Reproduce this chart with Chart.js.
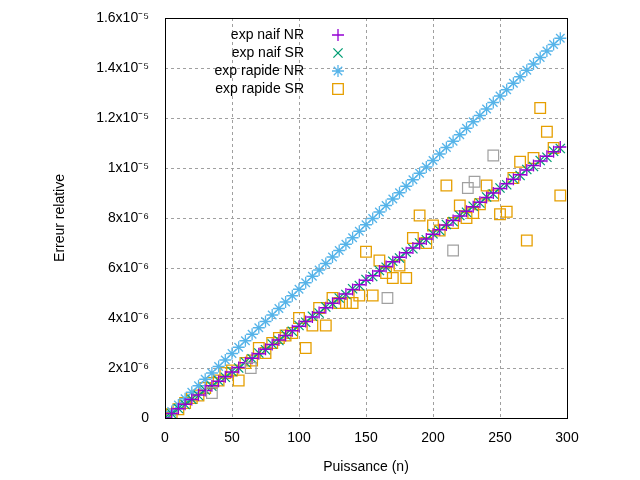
<!DOCTYPE html>
<html>
<head>
<meta charset="utf-8">
<script src="https://cdn.jsdelivr.net/npm/chart.js@4/dist/chart.umd.min.js"></script>
<style>
  html, body { margin: 0; padding: 0; background: #fff; }
  #wrap { width: 640px; height: 480px; }
</style>
</head>
<body>
<div id="wrap"><canvas id="c" width="640" height="480"></canvas></div>
<script>
// values in units of 1e-6
var puissance = [0,5,10,15,20,25,30,35,40,45,50,55,60,65,70,75,80,85,90,95,100,105,110,115,120,125,130,135,140,145,
                 150,155,160,165,170,175,180,185,190,195,200,205,210,215,220,225,230,235,240,245,250,255,260,265,270,275,280,285,290,295];
var naifNR = [0,0.18,0.37,0.55,0.74,0.92,1.1,1.29,1.47,1.65,1.84,2.02,2.21,2.39,2.57,2.75,2.94,3.12,3.3,3.49,3.67,3.86,4.04,4.22,4.41,4.59,4.78,4.96,5.14,5.33,
              5.51,5.69,5.88,6.06,6.25,6.43,6.61,6.8,6.98,7.16,7.35,7.53,7.72,7.9,8.08,8.27,8.45,8.63,8.82,9.0,9.18,9.37,9.55,9.73,9.92,10.1,10.28,10.47,10.65,10.84];
var naifSR = [0,0.17,0.38,0.54,0.75,0.9,1.12,1.27,1.49,1.63,1.86,2.0,2.23,2.37,2.6,2.73,2.96,3.1,3.33,3.47,3.7,3.83,4.07,4.2,4.44,4.57,4.8,4.94,5.17,5.3,
              5.54,5.66,5.9,6.03,6.27,6.4,6.63,6.77,7.0,7.13,7.37,7.5,7.74,7.86,8.1,8.23,8.47,8.6,8.84,8.96,9.2,9.33,9.57,9.7,9.94,10.06,10.3,10.43,10.67,10.78];
var rapideNR = [0,0.26,0.52,0.77,1.03,1.29,1.55,1.8,2.06,2.32,2.58,2.83,3.09,3.35,3.61,3.86,4.12,4.38,4.64,4.89,5.15,5.41,5.67,5.92,6.18,6.44,6.7,6.95,7.21,7.47,
                7.73,7.98,8.24,8.5,8.76,9.01,9.27,9.53,9.79,10.04,10.3,10.56,10.82,11.07,11.33,11.59,11.85,12.1,12.36,12.62,12.88,13.13,13.39,13.65,13.91,14.16,14.42,14.68,14.94,15.19];
var rapideSR = [0,0.15,0.35,0.6,0.8,0.9,1.2,1.4,1.5,1.8,1.9,1.5,2.2,2.3,2.8,2.6,3.0,3.2,3.3,3.4,4.0,2.8,3.7,4.4,3.7,4.8,4.6,4.6,4.6,4.9,
                6.65,4.9,6.3,5.8,5.6,6.1,5.6,7.2,8.1,7.0,7.7,7.5,9.3,7.8,8.5,8.0,8.2,8.55,9.3,8.9,8.15,8.25,9.6,10.25,7.1,10.4,12.4,11.45,10.8,8.9];
var extraN = [35,64,166,215,226,231,245];
var extraVal = [1.0,2.0,4.8,6.7,9.2,9.45,10.5];

var labels = ['exp naif NR', 'exp naif SR', 'exp rapide NR', 'exp rapide SR'];
var colors = ['#9400d3', '#009e73', '#56b4e9', '#e69f00'];
var styles = ['cross', 'crossRot', 'star', 'rect'];
var radii = [6, 6.5, 6, 7.5];
var xTicks = [0, 50, 100, 150, 200, 250, 300];
var yTicks = [0, 2, 4, 6, 8, 10, 12, 14, 16];
var yTickLabels = ['0', '2x10⁻⁶', '4x10⁻⁶', '6x10⁻⁶', '8x10⁻⁶', '1x10⁻⁵', '1.2x10⁻⁵', '1.4x10⁻⁵', '1.6x10⁻⁵'];

function pts(xs, ys) {
  return xs.map(function(x, i) { return { x: x, y: ys[i] }; });
}

var series = [naifNR, naifSR, rapideNR, rapideSR];
var datasets = series.map(function(s, i) {
  return {
    label: labels[i], data: pts(puissance, s),
    pointStyle: styles[i], pointRadius: radii[i], pointHoverRadius: radii[i],
    borderColor: colors[i], backgroundColor: 'transparent', pointBorderWidth: 1.3,
    showLine: false
  };
});
datasets.unshift({
  label: '', data: pts(extraN, extraVal), pointStyle: 'rect', pointRadius: 7.5,
  borderColor: '#a0a0a0', backgroundColor: 'transparent', pointBorderWidth: 1.2, showLine: false
});

var fontStr = '14px "Liberation Sans", Arial, sans-serif';
var frame = {
  id: 'frame',
  beforeDatasetsDraw: function(chart) {
    var ctx = chart.ctx, a = chart.chartArea, sx = chart.scales.x, sy = chart.scales.y;
    ctx.save();
    ctx.strokeStyle = '#a0a0a0';
    ctx.lineWidth = 1;
    ctx.setLineDash([3, 3]);
    xTicks.forEach(function(v) {
      var x = Math.round(sx.getPixelForValue(v)) + 0.5;
      ctx.beginPath(); ctx.moveTo(x, a.top); ctx.lineTo(x, a.bottom); ctx.stroke();
    });
    yTicks.forEach(function(v) {
      var y = Math.round(sy.getPixelForValue(v)) + 0.5;
      ctx.beginPath(); ctx.moveTo(a.left, y); ctx.lineTo(a.right, y); ctx.stroke();
    });
    ctx.restore();
  },
  afterDatasetsDraw: function(chart) {
    var ctx = chart.ctx, a = chart.chartArea;
    ctx.save();
    ctx.strokeStyle = '#000';
    ctx.lineWidth = 1;
    ctx.strokeRect(a.left + 0.5, a.top + 0.5, a.right - a.left, a.bottom - a.top);
    // y title
    ctx.fillStyle = '#000';
    ctx.font = fontStr;
    ctx.textAlign = 'center';
    ctx.textBaseline = 'middle';
    ctx.translate(60, (a.top + a.bottom) / 2);
    ctx.rotate(-Math.PI / 2);
    ctx.fillText('Erreur relative', 0, 0);
    ctx.restore();
    // legend
    ctx.save();
    ctx.font = fontStr;
    ctx.textAlign = 'right';
    ctx.textBaseline = 'middle';
    for (var i = 0; i < labels.length; i++) {
      var y = 35 + i * 18;
      ctx.fillStyle = '#000';
      ctx.fillText(labels[i], 304, y);
      ctx.fillStyle = 'rgba(0,0,0,0)';
      ctx.strokeStyle = colors[i];
      ctx.lineWidth = 1.3;
      Chart.helpers.drawPoint(ctx, { pointStyle: styles[i], radius: radii[i], rotation: 0, borderWidth: 1.3 }, 338, y);
    }
    ctx.restore();
  }
};

var font = { family: '"Liberation Sans", Arial, sans-serif', size: 14 };
new Chart(document.getElementById('c'), {
  type: 'scatter',
  data: { datasets: datasets },
  options: {
    responsive: false, animation: false, devicePixelRatio: 1,
    layout: { padding: { top: 18, right: 73, left: 0, bottom: 0 } },
    plugins: { legend: { display: false }, tooltip: { enabled: false } },
    scales: {
      x: {
        min: 0, max: 300,
        ticks: { stepSize: 50, color: '#000', font: font, padding: 4 },
        grid: { display: false },
        border: { display: false },
        title: { display: true, text: 'Puissance (n)', color: '#000', font: font, padding: { top: 6 } },
        afterFit: function(s) { s.height = 62; }
      },
      y: {
        min: 0, max: 16,
        afterBuildTicks: function(s) { s.ticks = yTicks.map(function(v) { return { value: v }; }); },
        ticks: { color: '#000', font: font, padding: 8,
          callback: function(v) { return yTickLabels[yTicks.indexOf(v)]; } },
        grid: { display: false },
        border: { display: false },
        afterFit: function(s) { s.width = 165; }
      }
    }
  },
  plugins: [frame]
});
</script>
</body>
</html>
